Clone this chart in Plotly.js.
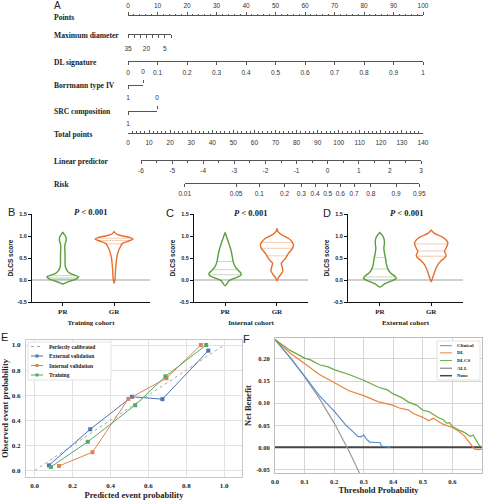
<!DOCTYPE html>
<html><head><meta charset="utf-8">
<script src="https://cdn.plot.ly/plotly-3.0.1.min.js"></script>
<style>html,body{margin:0;padding:0;background:#fff}#chart{width:486px;height:500px}</style>
</head><body><div id="chart"></div>
<script>
// ================= DATA =================
// Panel A: nomogram scales
const nomoRowNames = ['Points','Maximum diameter','DL signature','Borrmann type IV','SRC composition','Total points','Linear predictor','Risk'];
const pointsRange = [0, 100];
const diameterTicks = [35, 30, 25, 20, 15, 10, 5, 0];
const diameterLabels = ['35', '', '', '20', '', '', '5', ''];
const dlTicks = [0, 0.1, 0.2, 0.3, 0.4, 0.5, 0.6, 0.7, 0.8, 0.9, 1];
const binaryLevels = [1, 0];           // Borrmann type IV, SRC composition
const totalPointsRange = [0, 140];
const lpTicks = [-6, -5, -4, -3, -2, -1, 0, 1, 2, 3];
const riskTicks = [0.01, 0.05, 0.1, 0.2, 0.3, 0.4, 0.5, 0.6, 0.7, 0.8, 0.9, 0.95];

// Panels B-D: violin profiles (score value, half width)
const groups = ['PR', 'GR'];
const cohorts = ['Training cohort', 'Internal cohort', 'External cohort'];
const trainPR_y = [-0.09,-0.06,-0.02,0.02,0.075,0.11,0.15,0.19,0.3,0.56,0.79,0.9,0.98,1.05,1.09];
const trainPR_w = [0,0.065,0.16,0.26,0.31,0.23,0.14,0.1,0.05,0.045,0.04,0.065,0.06,0.02,0];
const trainPR_q = [0.02,0.05,0.1];
const trainGR_y = [-0.075,0.04,0.19,0.3,0.49,0.64,0.75,0.83,0.88,0.93,0.97,1.0,1.04,1.1];
const trainGR_w = [0,0.02,0.026,0.033,0.05,0.08,0.12,0.16,0.27,0.37,0.3,0.17,0.05,0];
const trainGR_q = [0.82,0.9,0.95];
const intPR_y = [-0.13,-0.015,0.045,0.1,0.15,0.21,0.29,0.4,0.52,0.67,0.82,0.97,1.08];
const intPR_w = [0,0.077,0.19,0.3,0.31,0.26,0.2,0.16,0.14,0.116,0.077,0.032,0];
const intPR_q = [0.12,0.235,0.42];
const intGR_y = [-0.015,0.06,0.14,0.21,0.3,0.38,0.44,0.52,0.6,0.72,0.8,0.87,0.95,1.02,1.1,1.17];
const intGR_w = [0,0.03,0.084,0.116,0.1,0.084,0.13,0.18,0.22,0.3,0.32,0.29,0.22,0.1,0.02,0];
const intGR_q = [0.55,0.72,0.85];
const extPR_y = [-0.16,-0.08,-0.02,0.04,0.09,0.16,0.24,0.35,0.5,0.61,0.72,0.84,0.95,1.02,1.08];
const extPR_w = [0,0.1,0.23,0.32,0.29,0.21,0.16,0.13,0.11,0.09,0.078,0.09,0.078,0.045,0];
const extPR_q = [0.07,0.25,0.51];
const extGR_y = [-0.04,0.04,0.13,0.24,0.35,0.44,0.51,0.57,0.65,0.72,0.84,0.91,0.99,1.06,1.13];
const extGR_w = [0,0.026,0.052,0.085,0.13,0.195,0.27,0.29,0.26,0.29,0.325,0.29,0.195,0.065,0];
const extGR_q = [0.54,0.66,0.82];
const violinTicks = [-0.5, 0, 0.5, 1, 1.5];
const violinTickText = ['-0.5', '0.0', '0.5', '1.0', '1.5'];

// Panel E: calibration
const perfect_x = [0, 1];
const perfect_y = [0, 1];
const external_x = [0.075, 0.293, 0.513, 0.674, 0.916];
const external_y = [0.04, 0.328, 0.587, 0.568, 0.955];
const internal_x = [0.128, 0.305, 0.494, 0.695, 0.877];
const internal_y = [0.035, 0.145, 0.57, 0.735, 1.0];
const training_x = [0.085, 0.28, 0.53, 0.69, 0.905];
const training_y = [0.027, 0.228, 0.52, 0.75, 1.0];
const calTicks = [0, 0.2, 0.4, 0.6, 0.8, 1.0];
const calTickText = ['0.0', '0.2', '0.4', '0.6', '0.8', '1.0'];

// Panel F: decision curves
const clinical_x = [0,0.05,0.1,0.13,0.15,0.17,0.19,0.2,0.22,0.24,0.26,0.28,0.29,0.3,0.31,0.32,0.34,0.355,0.36,0.39];
const clinical_y = [0.244,0.204,0.161,0.135,0.117,0.103,0.09,0.082,0.066,0.05,0.038,0.025,0.024,0.028,0.018,0.012,0.011,0.011,0.003,0.0];
const dl_x = [0,0.05,0.1,0.15,0.2,0.25,0.3,0.33,0.35,0.4,0.42,0.45,0.47,0.5,0.52,0.535,0.55,0.57,0.6,0.62,0.64,0.66,0.675,0.69,0.7];
const dl_y = [0.244,0.214,0.19,0.165,0.147,0.128,0.117,0.108,0.103,0.095,0.089,0.085,0.076,0.068,0.06,0.066,0.06,0.052,0.045,0.037,0.026,0.01,-0.004,-0.005,-0.004];
const dlcs_x = [0,0.05,0.1,0.12,0.15,0.18,0.2,0.25,0.3,0.33,0.35,0.38,0.4,0.43,0.45,0.48,0.5,0.52,0.55,0.57,0.58,0.59,0.6,0.62,0.64,0.66,0.67,0.69,0.7];
const dlcs_y = [0.244,0.22,0.202,0.198,0.187,0.182,0.176,0.165,0.152,0.143,0.136,0.13,0.121,0.112,0.103,0.095,0.084,0.081,0.068,0.062,0.055,0.056,0.047,0.04,0.034,0.025,0.028,0.005,0.0];
const all_x = [0,0.05,0.1,0.15,0.2,0.22,0.25,0.27,0.29];
const all_y = [0.244,0.204,0.16,0.111,0.055,0.031,-0.008,-0.036,-0.064];
const none_x = [0, 0.7];
const none_y = [0, 0];
const dcaXTicks = [0,0.1,0.2,0.3,0.4,0.5,0.6,0.7];
const dcaYTicks = [-0.05,0,0.05,0.1,0.15,0.2];
const dcaYTickText = ['-0.05','0.00','0.05','0.10','0.15','0.20'];

// ================= LAYOUT HELPERS =================
const W = 486, H = 500;
const PX = v => v / W, PY = v => 1 - v / H;
const xdom = (a, b) => [a / W, b / W];
const ydom = (top, bottom) => [1 - bottom / H, 1 - top / H];
const logit = p => Math.log(p / (1 - p));
const SERIF = 'Liberation Serif, Times New Roman, serif';
const SANS = 'Liberation Sans, Arial, sans-serif';

const layout = {
  width: W, height: H, margin: {l: 0, r: 0, t: 0, b: 0},
  paper_bgcolor: '#fff', plot_bgcolor: 'rgba(0,0,0,0)', showlegend: false,
  font: {family: SERIF, color: '#222'},
  annotations: [], shapes: []
};
const traces = [];

// ---------- Panel A: nomogram ----------
function nomoBase() {
  return {showline: true, linecolor: '#555', linewidth: 1, ticks: 'outside', ticklen: 3, tickwidth: 1, color: '#333',
    tickcolor: '#555', showgrid: false, zeroline: false, fixedrange: true,
    tickfont: {family: SANS, size: 6.5, color: '#333'}};
}
function rowY(idx, lineY, top) {
  const d = top ? [PY(lineY) - 1 / H, PY(lineY)] : [PY(lineY), PY(lineY) + 1 / H];
  layout['yaxis' + (idx === 1 ? '' : idx)] = {domain: d, visible: false, range: [0, 1], fixedrange: true};
}
// an empty scale trace makes each nomogram axis pair a drawn subplot
function scaleHolder(xa, ya, name) {
  traces.push({type: 'scatter', mode: 'markers', x: [], y: [], xaxis: xa, yaxis: ya, name: name, hoverinfo: 'skip'});
}
const rowLines = [16, 34, 61, 85, 111, 133, 160, 183];
// Points
rowY(1, rowLines[0], true);
layout.xaxis = Object.assign(nomoBase(), {domain: xdom(128, 423), range: pointsRange, side: 'top', anchor: 'y',
  tickmode: 'linear', tick0: 0, dtick: 10, ticklabelstandoff: 1,
  minor: {tickmode: 'linear', tick0: 0, dtick: 2, ticks: 'outside', ticklen: 1.5, tickcolor: '#555'}});
scaleHolder('x', 'y', 'Points');
// Maximum diameter
rowY(2, rowLines[1]);
layout.xaxis2 = Object.assign(nomoBase(), {domain: xdom(128, 171), range: [35, 0], anchor: 'y2',
  tickmode: 'array', tickvals: diameterTicks, ticktext: diameterLabels, ticklabelstandoff: 5});
scaleHolder('x2', 'y2', 'Maximum diameter');
// DL signature
rowY(3, rowLines[2]);
layout.xaxis3 = Object.assign(nomoBase(), {domain: xdom(128, 423), range: [0, 1], anchor: 'y3',
  tickmode: 'array', tickvals: dlTicks, ticktext: dlTicks.map(String), ticklabelstandoff: 2});
scaleHolder('x3', 'y3', 'DL signature');
// Borrmann type IV (1 below, 0 above)
rowY(4, rowLines[3]);
layout.xaxis4 = Object.assign(nomoBase(), {domain: xdom(128, 143), range: binaryLevels, anchor: 'y4',
  tickmode: 'array', tickvals: [binaryLevels[0]], ticktext: [String(binaryLevels[0])], ticklabelstandoff: 3});
layout.xaxis5 = Object.assign(nomoBase(), {overlaying: 'x4', anchor: 'y4', side: 'top', range: binaryLevels, showline: false,
  tickmode: 'array', tickvals: [binaryLevels[1]], ticktext: [String(binaryLevels[1])], ticklabelstandoff: 3});
scaleHolder('x4', 'y4', 'Borrmann type IV');
scaleHolder('x5', 'y4', 'Borrmann type IV');
// SRC composition
rowY(6, rowLines[4]);
layout.xaxis6 = Object.assign(nomoBase(), {domain: xdom(128, 157), range: binaryLevels, anchor: 'y6',
  tickmode: 'array', tickvals: [binaryLevels[0]], ticktext: [String(binaryLevels[0])], ticklabelstandoff: 3});
layout.xaxis7 = Object.assign(nomoBase(), {overlaying: 'x6', anchor: 'y6', side: 'top', range: binaryLevels, showline: false,
  tickmode: 'array', tickvals: [binaryLevels[1]], ticktext: [String(binaryLevels[1])], ticklabelstandoff: 3});
scaleHolder('x6', 'y6', 'SRC composition');
scaleHolder('x7', 'y6', 'SRC composition');
// Total points
rowY(8, rowLines[5]);
layout.xaxis8 = Object.assign(nomoBase(), {domain: xdom(128, 423), range: totalPointsRange, anchor: 'y8',
  ticks: 'inside', tickmode: 'linear', tick0: 0, dtick: 10, ticklabelstandoff: 3,
  minor: {tickmode: 'linear', tick0: 0, dtick: 2, ticks: 'inside', ticklen: 2, tickcolor: '#555'}});
scaleHolder('x8', 'y8', 'Total points');
// Linear predictor
const lpPx = [141, 421];
rowY(9, rowLines[6]);
layout.xaxis9 = Object.assign(nomoBase(), {domain: xdom(lpPx[0], lpPx[1]), range: [lpTicks[0], lpTicks[lpTicks.length - 1]], anchor: 'y9',
  tickmode: 'array', tickvals: lpTicks, ticktext: lpTicks.map(String), ticklabelstandoff: 1,
  minor: {tickmode: 'linear', tick0: 0, dtick: 0.5, ticks: 'outside', ticklen: 2, tickcolor: '#555'}});
scaleHolder('x9', 'y9', 'Linear predictor');
// Risk (aligned with linear predictor through logit)
const lpToPx = v => lpPx[0] + (v - lpTicks[0]) / (lpTicks[lpTicks.length - 1] - lpTicks[0]) * (lpPx[1] - lpPx[0]);
const riskLo = logit(riskTicks[0]), riskHi = logit(riskTicks[riskTicks.length - 1]);
rowY(10, rowLines[7]);
layout.xaxis10 = Object.assign(nomoBase(), {domain: xdom(lpToPx(riskLo), lpToPx(riskHi)), range: [riskLo, riskHi], anchor: 'y10',
  tickmode: 'array', tickvals: riskTicks.map(logit), ticktext: riskTicks.map(String), ticklabelstandoff: 1});
scaleHolder('x10', 'y10', 'Risk');

nomoRowNames.forEach((name, i) => {
  layout.annotations.push({text: name, x: PX(52), y: PY(rowLines[i] + 1), xref: 'paper', yref: 'paper',
    xanchor: 'left', yanchor: 'middle', showarrow: false, font: {family: SERIF, size: 7.6, weight: 'bold', color: '#222'}});
});

// ---------- Panels B-D: violins ----------
const GREEN = '#5a9e3a', ORANGE = '#e46f2b';
const violinSets = [
  {ax: 11, xd: [32, 150], xr: [-0.6, 1.7], pr: [trainPR_y, trainPR_w, trainPR_q], gr: [trainGR_y, trainGR_w, trainGR_q], letter: 'B', lx: 11, ly: 212, tx: 90},
  {ax: 12, xd: [194, 308], xr: [-0.6, 1.6], pr: [intPR_y, intPR_w, intPR_q], gr: [intGR_y, intGR_w, intGR_q], letter: 'C', lx: 169.5, ly: 213, tx: 250},
  {ax: 13, xd: [348, 463], xr: [-0.62, 1.62], pr: [extPR_y, extPR_w, extPR_q], gr: [extGR_y, extGR_w, extGR_q], letter: 'D', lx: 326.5, ly: 213, tx: 406}
];
function interpW(ys, ws, q) {
  for (let i = 1; i < ys.length; i++) {
    if (q <= ys[i]) { const t = (q - ys[i - 1]) / (ys[i] - ys[i - 1]); return ws[i - 1] + t * (ws[i] - ws[i - 1]); }
  }
  return 0;
}
function addViolin(prof, center, color, qcolor, xa, ya, name) {
  const [ys, ws, qs] = prof;
  const xs = ys.map((y, i) => center + ws[i]).concat(ys.slice().reverse().map((y, i) => center - ws[ws.length - 1 - i]));
  const yy = ys.concat(ys.slice().reverse());
  qs.forEach(q => {
    const w = interpW(ys, ws, q);
    traces.push({type: 'scatter', mode: 'lines', x: [center - w, center + w], y: [q, q], xaxis: xa, yaxis: ya,
      line: {color: qcolor, width: 0.8}, hoverinfo: 'skip', name: name + ' quartile'});
  });
  traces.push({type: 'scatter', mode: 'lines', x: xs, y: yy, xaxis: xa, yaxis: ya, name: name,
    line: {color: color, width: 1.4, shape: 'spline', smoothing: 0.7}});
}
violinSets.forEach((s, k) => {
  const xa = 'x' + s.ax, ya = 'y' + s.ax;
  layout['xaxis' + s.ax] = {domain: xdom(s.xd[0], s.xd[1]), range: s.xr, anchor: ya, showline: true, linecolor: '#111', linewidth: 1,
    ticks: 'outside', ticklen: 3, tickcolor: '#111', tickmode: 'array', tickvals: [0, 1], ticktext: groups,
    tickfont: {family: SERIF, size: 7, weight: 'bold', color: '#222'}, showgrid: false, zeroline: false, fixedrange: true,
    title: {text: cohorts[k], font: {family: SERIF, size: 7, weight: 'bold', color: '#222'}, standoff: 4}};
  layout['yaxis' + s.ax] = {domain: ydom(214, 302), range: [-0.5, 1.5], anchor: xa, showline: true, linecolor: '#111', linewidth: 1,
    ticks: 'outside', ticklen: 3, tickcolor: '#111', tickmode: 'array', tickvals: violinTicks, ticktext: violinTickText,
    tickfont: {family: SANS, size: 5.5, weight: 'bold', color: '#222'}, showgrid: false,
    zeroline: true, zerolinecolor: '#cfcfcf', zerolinewidth: 2, fixedrange: true,
    title: {text: 'DLCS score', font: {family: SANS, size: 6.5, weight: 'bold', color: '#222'}, standoff: 3}};
  addViolin(s.pr, 0, GREEN, 'rgba(90,158,58,0.45)', xa, ya, cohorts[k] + ' PR');
  addViolin(s.gr, 1, ORANGE, 'rgba(228,111,43,0.45)', xa, ya, cohorts[k] + ' GR');
  layout.annotations.push({text: s.letter, x: PX(s.lx), y: PY(s.ly), xref: 'paper', yref: 'paper', xanchor: 'center', yanchor: 'middle',
    showarrow: false, font: {family: SANS, size: 11, color: '#222'}});
  layout.annotations.push({text: '<i>P</i> < 0.001', x: PX(s.tx), y: PY(s.ly), xref: 'paper', yref: 'paper', xanchor: 'center', yanchor: 'middle',
    showarrow: false, font: {family: SERIF, size: 8.5, weight: 'bold', color: '#222'}});
});

// ---------- Panel E: calibration ----------
const C_BLUE = '#4c72b0', C_ORANGE = '#dd8452', C_GREEN = '#55a868', C_GRAY = '#a8a8a8';
layout.xaxis14 = {domain: xdom(26, 242), range: [-0.046, 1.094], anchor: 'y14', showline: true, mirror: true, linecolor: '#c8c8c8', linewidth: 1,
  ticks: '', showgrid: true, gridcolor: '#e2e2e2', gridwidth: 1, zeroline: false, tickmode: 'array', tickvals: calTicks, ticktext: calTickText,
  tickfont: {family: SERIF, size: 7, weight: 'bold', color: '#222'}, ticklabelstandoff: 2, fixedrange: true,
  title: {text: 'Predicted event probability', font: {family: SERIF, size: 8.5, weight: 'bold', color: '#222'}, standoff: 3}};
layout.yaxis14 = {domain: ydom(340, 477), range: [-0.053, 1.04], anchor: 'x14', showline: true, mirror: true, linecolor: '#c8c8c8', linewidth: 1,
  ticks: '', showgrid: true, gridcolor: '#e2e2e2', gridwidth: 1, zeroline: false, tickmode: 'array', tickvals: calTicks, ticktext: calTickText,
  tickfont: {family: SERIF, size: 7, weight: 'bold', color: '#222'}, ticklabelstandoff: 3, fixedrange: true,
  title: {text: 'Observed event probability', font: {family: SERIF, size: 8.5, weight: 'bold', color: '#222'}, standoff: 2}};
traces.push({type: 'scatter', mode: 'lines', x: perfect_x, y: perfect_y, xaxis: 'x14', yaxis: 'y14', name: 'Perfectly calibrated',
  line: {color: C_GRAY, width: 1, dash: 'dot'}});
[[external_x, external_y, C_BLUE, 'External validation'], [internal_x, internal_y, C_ORANGE, 'Internal validation'],
 [training_x, training_y, C_GREEN, 'Training']].forEach(([x, y, c, n]) => {
  traces.push({type: 'scatter', mode: 'lines+markers', x: x, y: y, xaxis: 'x14', yaxis: 'y14', name: n,
    line: {color: c, width: 1}, marker: {symbol: 'square', size: 4, color: c}});
});
layout.annotations.push({text: 'E', x: PX(4), y: PY(337), xref: 'paper', yref: 'paper', xanchor: 'center', yanchor: 'middle',
  showarrow: false, font: {family: SANS, size: 11, color: '#222'}});

// ---------- Panel F: decision curves ----------
const F_BLUE = '#5b8fcf', F_ORANGE = '#e8843a', F_GREEN = '#6aab45', F_GRAY = '#9a9a9a', F_BLACK = '#454545';
layout.xaxis15 = {domain: xdom(275, 482), range: [0, 0.7], anchor: 'y15', showline: true, mirror: true, linecolor: '#bdbdbd', linewidth: 1,
  ticks: '', showgrid: true, gridcolor: '#d6d6d6', gridwidth: 1, zeroline: false, tickmode: 'array', tickvals: dcaXTicks,
  ticktext: dcaXTicks.map(v => v.toFixed(1)), tickfont: {family: SERIF, size: 6.5, weight: 'bold', color: '#222'}, ticklabelstandoff: 2, fixedrange: true,
  title: {text: 'Threshold Probability', font: {family: SERIF, size: 8.5, weight: 'bold', color: '#222'}, standoff: 3}};
layout.yaxis15 = {domain: ydom(338, 473), range: [-0.058, 0.2475], anchor: 'x15', showline: true, mirror: true, linecolor: '#bdbdbd', linewidth: 1,
  ticks: '', showgrid: true, gridcolor: '#d6d6d6', gridwidth: 1, zeroline: false, tickmode: 'array', tickvals: dcaYTicks, ticktext: dcaYTickText,
  tickfont: {family: SERIF, size: 6.5, weight: 'bold', color: '#222'}, ticklabelstandoff: 3, fixedrange: true,
  title: {text: 'Net Benefit', font: {family: SERIF, size: 8.5, weight: 'bold', color: '#222'}, standoff: 3}};
[[none_x, none_y, F_BLACK, 'None', 2], [all_x, all_y, F_GRAY, 'ALL', 1.2], [clinical_x, clinical_y, F_BLUE, 'Clinical', 1.2],
 [dl_x, dl_y, F_ORANGE, 'DL', 1.2], [dlcs_x, dlcs_y, F_GREEN, 'DLCS', 1.2]].forEach(([x, y, c, n, w]) => {
  traces.push({type: 'scatter', mode: 'lines', x: x, y: y, xaxis: 'x15', yaxis: 'y15', name: n, line: {color: c, width: w}});
});
layout.annotations.push({text: 'F', x: PX(247), y: PY(339), xref: 'paper', yref: 'paper', xanchor: 'center', yanchor: 'middle',
  showarrow: false, font: {family: SANS, size: 11, color: '#222'}});
layout.annotations.push({text: 'A', x: PX(52), y: PY(5), xref: 'paper', yref: 'paper', xanchor: 'left', yanchor: 'middle',
  showarrow: false, font: {family: SANS, size: 10, color: '#222'}});

// ---------- manual legends (compact, like the original) ----------
function addLegend(box, rowsY, sw, textX, entries, fsize) {
  layout.shapes.push({type: 'rect', xref: 'paper', yref: 'paper', x0: PX(box[0]), x1: PX(box[2]), y0: PY(box[3]), y1: PY(box[1]),
    fillcolor: '#fff', line: {color: '#dcdcdc', width: 0.8}, layer: 'above'});
  entries.forEach((e, i) => {
    const y = rowsY[i];
    layout.shapes.push({type: 'line', xref: 'paper', yref: 'paper', x0: PX(sw[0]), x1: PX(sw[1]), y0: PY(y), y1: PY(y),
      line: {color: e.color, width: e.width || 1, dash: e.dash || 'solid'}, layer: 'above'});
    if (e.marker) {
      const mx = (sw[0] + sw[1]) / 2;
      layout.shapes.push({type: 'rect', xref: 'paper', yref: 'paper', x0: PX(mx - 1.5), x1: PX(mx + 1.5), y0: PY(y + 1.5), y1: PY(y - 1.5),
        fillcolor: e.color, line: {width: 0}, layer: 'above'});
    }
    layout.annotations.push({text: e.name, x: PX(textX), y: PY(y), xref: 'paper', yref: 'paper', xanchor: 'left', yanchor: 'middle',
      showarrow: false, font: {family: SERIF, size: fsize, weight: 'bold', color: '#222'}});
  });
}
addLegend([28, 342, 111, 380], [346.5, 356, 365.5, 375], [31, 43], 47, [
  {name: 'Perfectly calibrated', color: C_GRAY, dash: 'dot'},
  {name: 'External validation', color: C_BLUE, marker: true},
  {name: 'Internal validation', color: C_ORANGE, marker: true},
  {name: 'Training', color: C_GREEN, marker: true}], 5.5);
addLegend([437, 341, 480, 380], [345.7, 352.9, 360.6, 368.3, 375.7], [440, 452], 455, [
  {name: 'Clinical', color: F_BLUE}, {name: 'DL', color: F_ORANGE}, {name: 'DLCS', color: F_GREEN},
  {name: 'ALL', color: F_GRAY, width: 1.5}, {name: 'None', color: F_BLACK, width: 1.5}], 5);

Plotly.newPlot('chart', traces, layout, {staticPlot: true, displayModeBar: false});
</script>
</body></html>
